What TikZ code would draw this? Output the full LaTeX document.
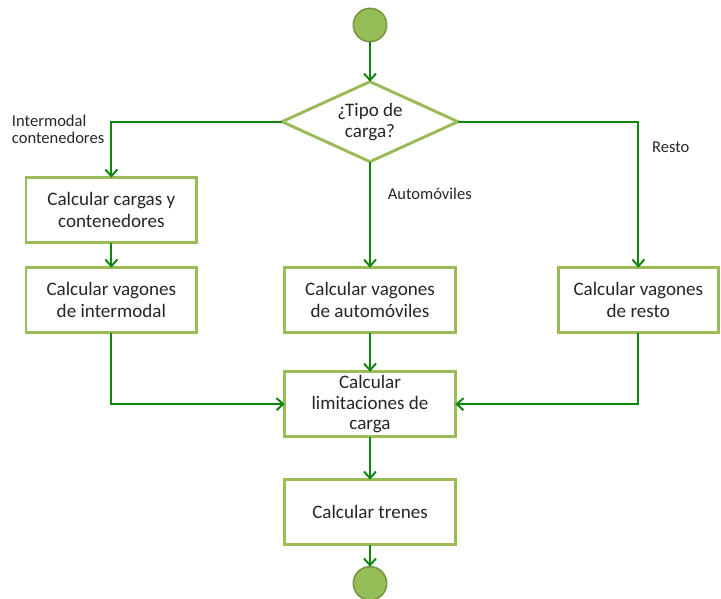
\documentclass[tikz,border=0pt]{standalone}
\usepackage{fontspec}
\setmainfont{Carlito}
\usepackage{tikz}
\usetikzlibrary{arrows.meta, positioning, shapes.geometric}
\definecolor{verdeborde}{RGB}{155,187,89}
\definecolor{verdeflecha}{RGB}{16,134,16}
\definecolor{verdecirculo}{RGB}{150,190,88}
\definecolor{verdeoscuro}{RGB}{118,150,66}
\definecolor{texto}{RGB}{38,38,38}
\tikzset{
	every node/.style={
		align=center,
		text=texto,
		outer sep=0pt,
	},
}
\tikzstyle{caja} = [draw=verdeborde, line width=2.2pt, fill=white, minimum width=128pt, minimum height=48.75pt, inner sep=1pt, font=\fontsize{14.3}{16.5}\selectfont]
\tikzstyle{decision} = [diamond, aspect=2.2, draw=verdeborde, line width=2.2pt, fill=white, minimum width=132pt, minimum height=60pt, inner sep=0pt, font=\fontsize{14.3}{15.8}\selectfont]
\tikzstyle{estado} = [circle, draw=verdeoscuro, line width=1.2pt, fill=verdecirculo, minimum size=25pt, inner sep=0pt]
\tikzstyle{flecha} = [draw=verdeflecha, line width=1.5pt, -{Straight Barb[length=5pt, width=9pt]}]
\tikzstyle{etiqueta} = [font=\fontsize{12.4}{12.75}\selectfont, align=left]

\begin{document}
\begin{tikzpicture}
    \useasboundingbox (-277.5pt,18.75pt) rectangle (263.25pt,-430.5pt);

    \node[estado] (inicio) {};
    \node[decision, below=30pt of inicio] (tipo) {¿Tipo de\\carga?};
    \node[caja, below=79.5pt of tipo] (vauto) {Calcular vagones\\de automóviles};
    \node[caja, left=66pt of vauto] (vinter) {Calcular vagones\\de intermodal};
    \node[caja, right=77.25pt of vauto, minimum width=120pt] (vresto) {Calcular vagones\\de resto};
    \node[caja, above=18.75pt of vinter] (cargas) {Calcular cargas y\\contenedores};
    \node[caja, below=29.25pt of vauto, font=\fontsize{14.3}{15.4}\selectfont] (limites) {Calcular\\limitaciones de\\carga};
    \node[caja, below=32.25pt of limites] (trenes) {Calcular trenes};
    \node[estado, below=16.5pt of trenes] (fin) {};

    \node[etiqueta, anchor=east] (linter) at ([xshift=-2pt, yshift=-6pt]cargas.north |- tipo.west) {Intermodal\\contenedores};
    \node[etiqueta, anchor=west] (lauto) at ([xshift=10pt, yshift=-24pt]tipo.south) {Automóviles};
    \node[etiqueta, anchor=west] (lresto) at ([xshift=7pt, yshift=-19.5pt]vresto.north |- tipo.east) {Resto};

    \draw[flecha] (inicio) -- (tipo);
    \draw[flecha] (tipo.west) -| (cargas.north);
    \draw[flecha] (tipo.south) -- (vauto.north);
    \draw[flecha] (tipo.east) -| (vresto.north);
    \draw[flecha] (cargas) -- (vinter);
    \draw[flecha] (vinter.south) |- (limites.west);
    \draw[flecha] (vauto) -- (limites);
    \draw[flecha] (vresto.south) |- (limites.east);
    \draw[flecha] (limites) -- (trenes);
    \draw[flecha] (trenes) -- (fin);

\end{tikzpicture}
\end{document}
